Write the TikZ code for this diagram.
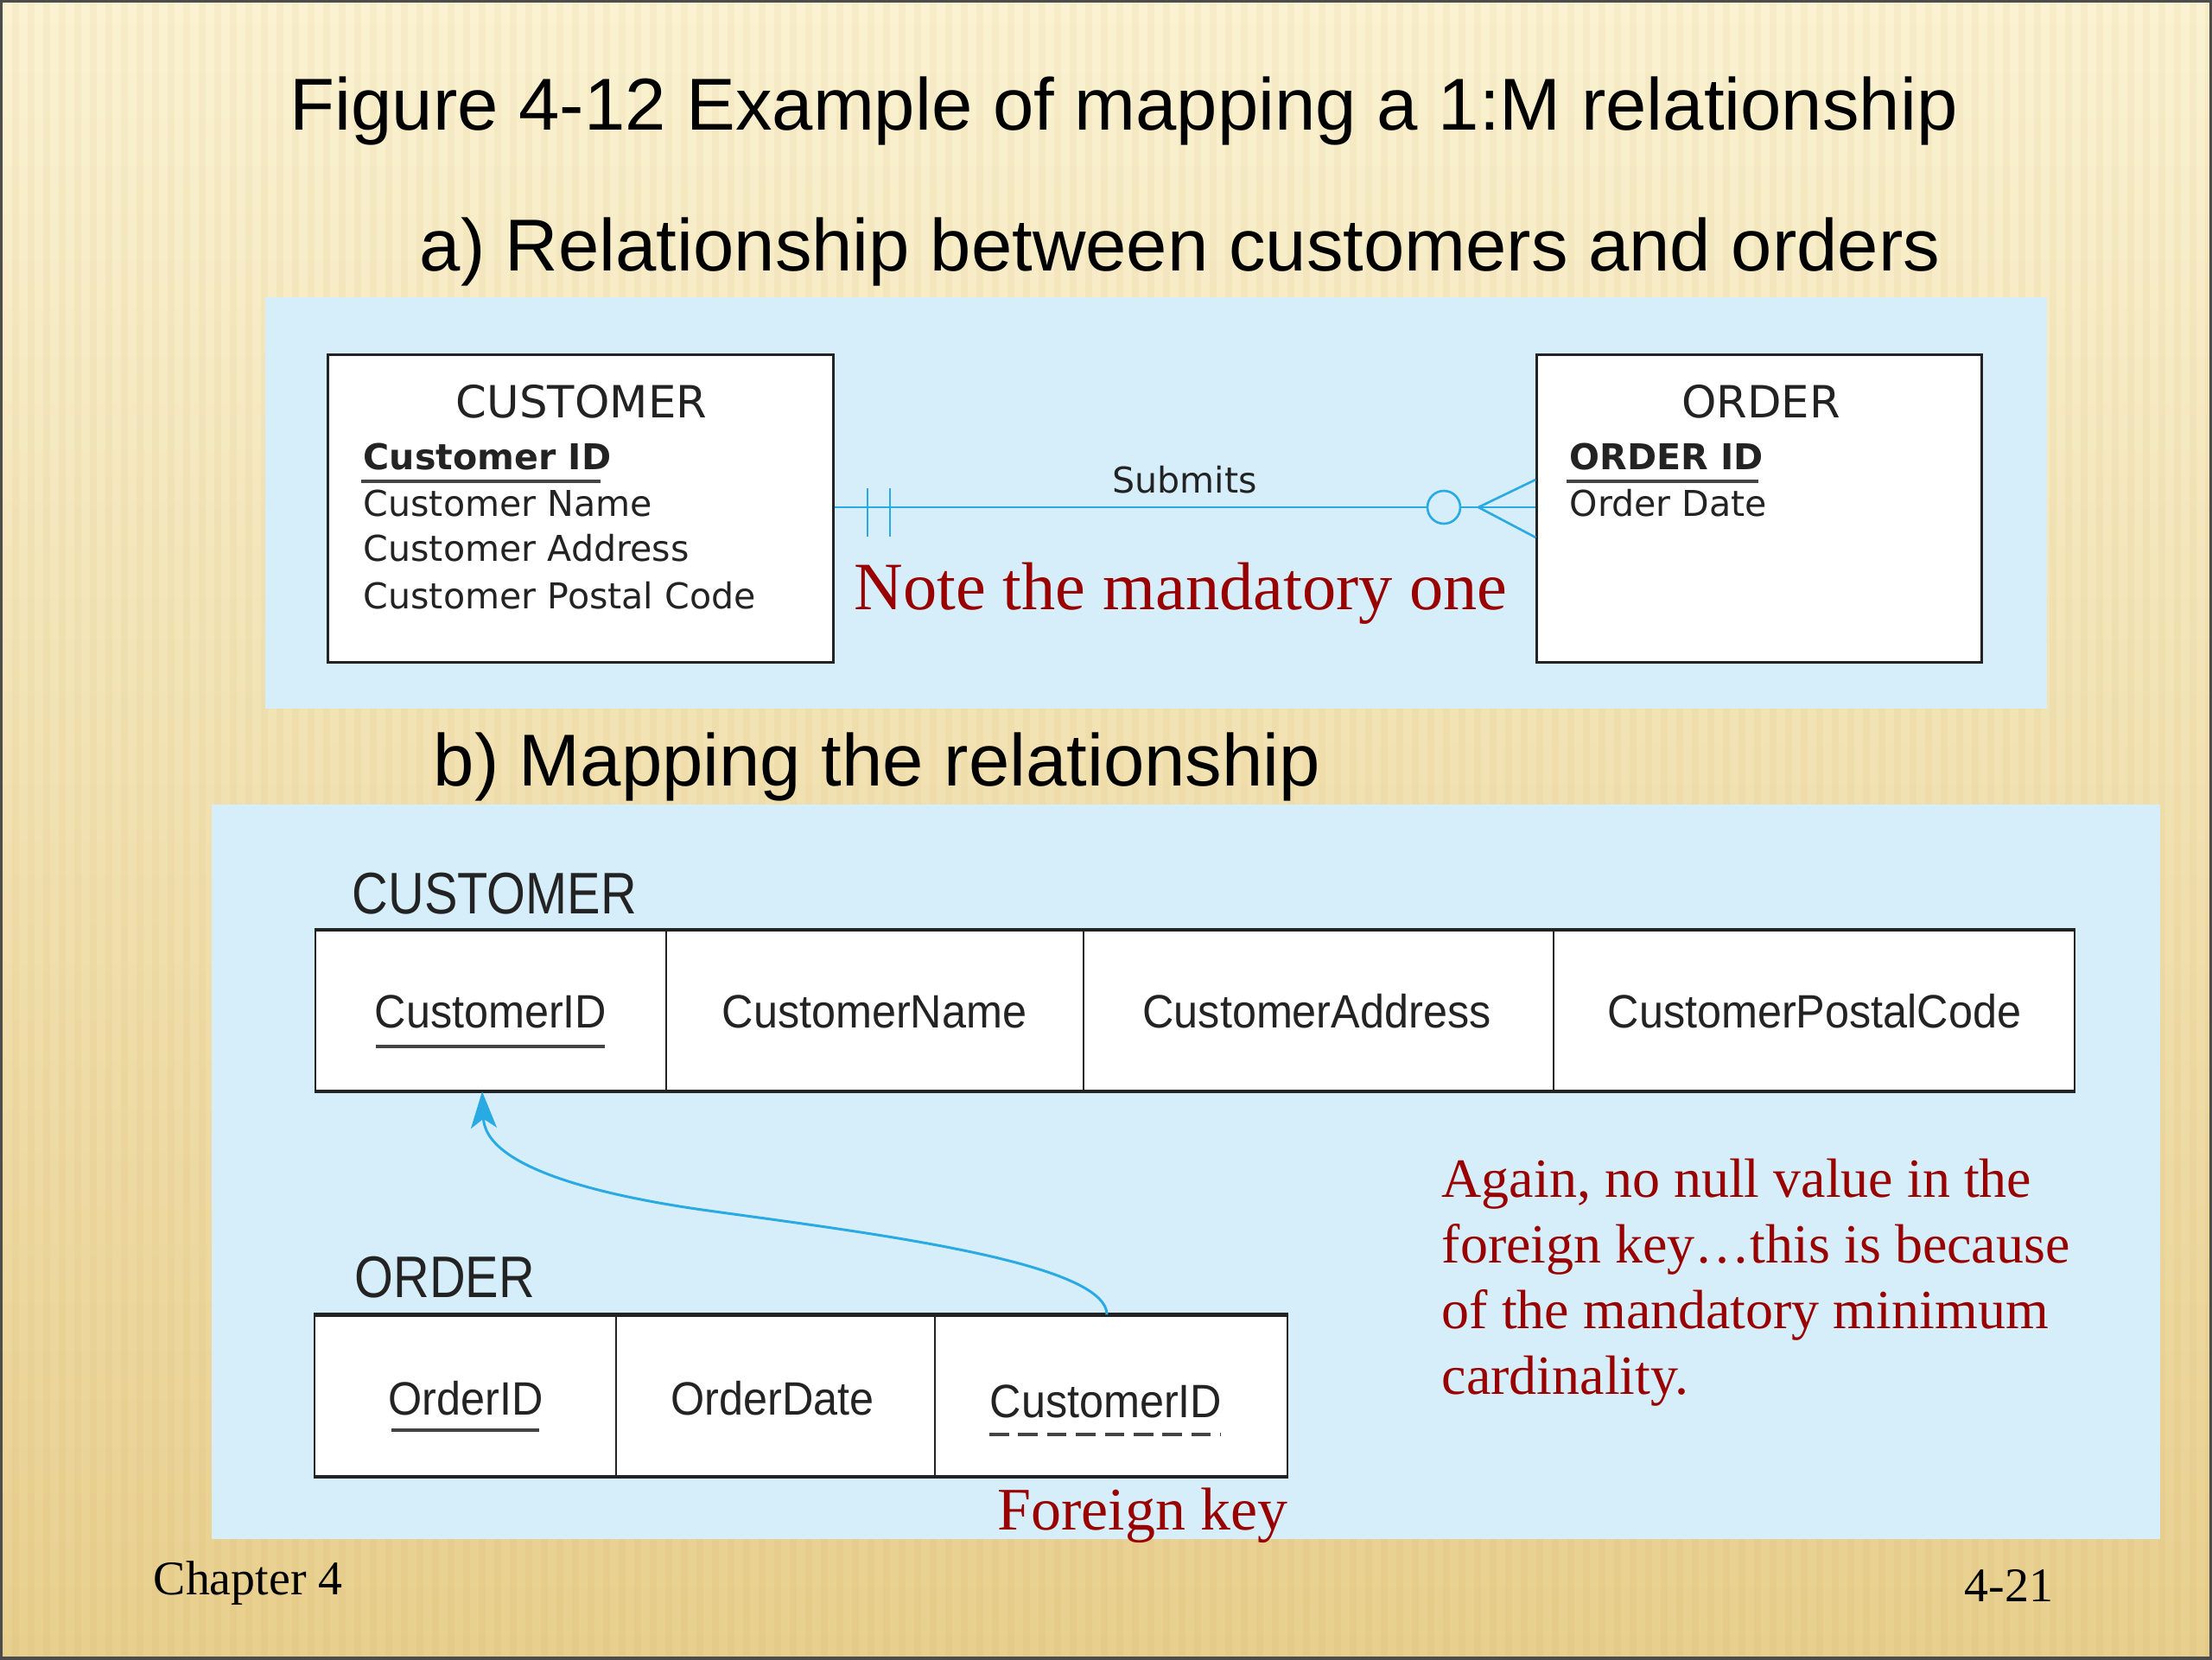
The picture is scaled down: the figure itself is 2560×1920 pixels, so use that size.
\documentclass[tikz,border=0pt]{standalone}
\usepackage{fontspec}
\setmainfont{Liberation Serif}
\newfontfamily\arialf{Liberation Sans}
\newfontfamily\arialn[FakeStretch=0.85]{Liberation Sans}
\newfontfamily\arialm[FakeStretch=0.93]{Liberation Sans}
\newfontfamily\dejav{DejaVu Sans}
\usetikzlibrary{arrows.meta,calc}
\definecolor{panel}{RGB}{213,238,250}
\definecolor{rel}{RGB}{41,170,226}
\definecolor{notec}{RGB}{153,0,0}
\definecolor{bgtop}{RGB}{250,242,210}
\definecolor{bgbot}{RGB}{232,207,142}
\definecolor{stripe}{RGB}{200,160,80}
\definecolor{ink}{RGB}{35,35,35}
\tikzset{
  ttl/.style={font=\arialf\fontsize{24.2}{29}\selectfont, anchor=base west, inner sep=0pt},
  ertitle/.style={font=\dejav\fontsize{14.6}{17}\selectfont, text=ink, anchor=base, inner sep=0pt},
  erattr/.style={font=\dejav\fontsize{11.7}{14}\selectfont, text=ink, anchor=base west, inner sep=0pt},
  entity/.style={draw=ink, line width=0.85pt, fill=white, minimum height=3.55cm, inner sep=0pt},
  cell/.style={draw=ink, line width=0.6pt, fill=white, minimum height=1.85cm, inner sep=0pt},
  celltxt/.style={font=\arialm\fontsize{15.4}{18}\selectfont, text=ink, anchor=base, inner sep=0pt},
  tlabel/.style={font=\arialn\fontsize{19.3}{23}\selectfont, text=ink, anchor=base west, inner sep=0pt},
  notetxt/.style={font=\fontsize{18.2}{22}\selectfont, text=notec, anchor=base west, inner sep=0pt},
  foot/.style={font=\fontsize{15.9}{19}\selectfont, text=black, anchor=base west, inner sep=0pt},
  relline/.style={draw=rel, line width=0.75pt},
  ul/.style={draw=ink!85, line width=0.9pt},
  tbord/.style={draw=ink, line width=1.2pt},
  fk/.style={draw=rel, line width=0.85pt, -{Stealth[length=12pt,width=8.5pt,inset=3pt]}}
}
\begin{document}
\begin{tikzpicture}[x=0.01cm,y=-0.01cm]
\useasboundingbox (0,0) rectangle (2560,1920);
% background
\shade[top color=bgtop, bottom color=bgbot] (0,0) rectangle (2560,1920);
\foreach \sx in {0,18,...,2560} {
  \draw[stripe, opacity=0.07, line width=2.2pt] (\sx,0) -- (\sx,1920);
}
\draw[line width=1.6pt, black!70] (0,0) rectangle (2560,1920);

% titles
\node[ttl] (title) at (335,150) {Figure 4-12 Example of mapping a 1:M relationship};
\node[ttl] (suba) at (485,313) {a) Relationship between customers and orders};
\node[ttl] (subb) at (501,909) {b) Mapping the relationship};

% panel a
\fill[panel] (307,344) rectangle (2369,820);
\node[entity, minimum width=5.84cm] (cust) at (672,588.5) {};
\node[entity, minimum width=5.14cm] (ord) at (2036,588.5) {};
\node[ertitle] (custt) at (673,483) {CUSTOMER};
\node[erattr] (ca1) at (420,543) {\bfseries Customer ID};
\node[erattr] (ca2) at (420,597) {Customer Name};
\node[erattr] (ca3) at (420,649) {Customer Address};
\node[erattr] (ca4) at (420,704) {Customer Postal Code};
\draw[ul] (418,557) -- (695,557);
\node[ertitle] (ordt) at (2038,483) {ORDER};
\node[erattr] (oa1) at (1816,543) {\bfseries ORDER ID};
\node[erattr] (oa2) at (1816,597) {Order Date};
\draw[ul] (1813,557) -- (2035,557);

% relationship
\coordinate (rl) at (cust.east |- 0,587);
\coordinate (rr) at (ord.west |- 0,587);
\draw[relline] (rl) -- (rr);
\draw[relline] (1004,565) -- (1004,621);
\draw[relline] (1030,565) -- (1030,621);
\draw[relline, fill=panel] (1671,587) circle (19);
\draw[relline] (rr |- 0,555) -- (1711,587) -- (rr |- 0,622);
\node[erattr, anchor=base] (subm) at (1371,570) {Submits};
\node[font=\fontsize{22.3}{27}\selectfont, text=notec, anchor=base west, inner sep=0pt] (note1) at (988,705) {Note the mandatory one};

% panel b
\fill[panel] (245,931) rectangle (2500,1781);
\node[tlabel] (custlab) at (407,1057) {CUSTOMER};
\node[cell, minimum width=4.06cm] (c1) at (568,1169.5) {};
\node[cell, minimum width=4.83cm] (c2) at (1012.5,1169.5) {};
\node[cell, minimum width=5.44cm] (c3) at (1526,1169.5) {};
\node[cell, minimum width=6.03cm] (c4) at (2099.5,1169.5) {};
\draw[tbord] (c1.north west) -- (c4.north east);
\draw[tbord] (c1.south west) -- (c4.south east);
\node[celltxt] (c1t) at (568,1189) {CustomerID};
\node[celltxt] (c2t) at (1012,1189) {CustomerName};
\node[celltxt] (c3t) at (1524,1189) {CustomerAddress};
\node[celltxt] (c4t) at (2100,1189) {CustomerPostalCode};
\draw[ul, line width=1.1pt] (435,1211) -- (700,1211);

\node[tlabel] (ordlab) at (410,1501) {ORDER};
\node[cell, minimum width=3.49cm] (o1) at (538.5,1615) {};
\node[cell, minimum width=3.69cm] (o2) at (897.5,1615) {};
\node[cell, minimum width=4.08cm] (o3) at (1286,1615) {};
\draw[tbord] (o1.north west) -- (o3.north east);
\draw[tbord] (o1.south west) -- (o3.south east);
\node[celltxt] (o1t) at (539,1637) {OrderID};
\node[celltxt] (o2t) at (894,1637) {OrderDate};
\node[celltxt] (o3t) at (1280,1640) {CustomerID};
\draw[ul, line width=1.1pt] (453,1655) -- (624,1655);
\draw[ul, line width=1.1pt, dash pattern=on 6.4pt off 3.1pt] (1145,1660) -- (1413,1660);

% foreign key arrow
\coordinate (fks) at ($(o3.north)+(-5,0)$);
\coordinate (fke) at ($(c1.south)+(-10,0)$);
\draw[fk] (fks) .. controls (1281,1460) and (1000,1426) .. (820,1401)
  .. controls (690,1383) and (562,1350) .. (fke);

% notes
\node[notetxt] (n1) at (1668,1385) {Again, no null value in the};
\node[notetxt] (n2) at (1668,1461) {foreign key…this is because};
\node[notetxt] (n3) at (1668,1537) {of the mandatory minimum};
\node[notetxt] (n4) at (1668,1613) {cardinality.};
\node[notetxt, font=\fontsize{19.9}{24}\selectfont] (fkl) at (1154,1770) {Foreign key};

% footer
\node[foot] (chap) at (177,1845) {Chapter 4};
\node[foot] (pg) at (2273,1853) {4-21};
\end{tikzpicture}
\end{document}
